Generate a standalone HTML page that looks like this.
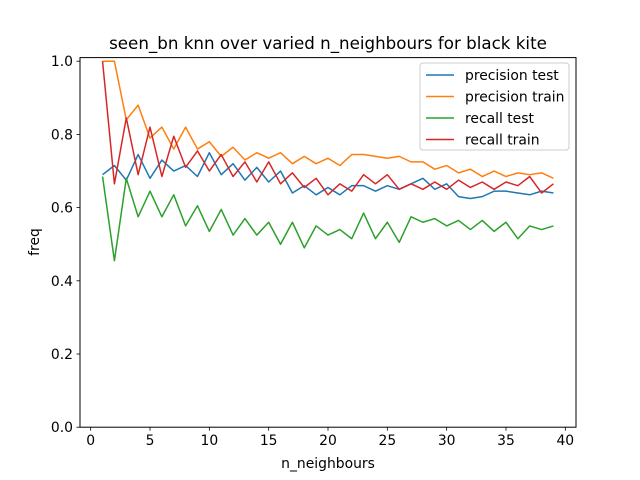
<!DOCTYPE html>
<html><head><meta charset="utf-8"><style>
html,body{margin:0;padding:0;background:#fff;}
svg{display:block;font-family:"DejaVu Sans","Liberation Sans",sans-serif;}
</style></head><body>
<svg id="chart" width="640" height="480" viewBox="0 0 640 480">
<rect width="640" height="480" fill="#fff"/>
<text x="328" y="49" font-size="16.7" text-anchor="middle">seen_bn knn over varied n_neighbours for black kite</text>
<g id="series"></g>
<rect x="80" y="57.6" width="496" height="369.6" fill="none" stroke="#000" stroke-width="1"/>
<g id="ticks"></g>
<text x="328" y="468" font-size="13.9" text-anchor="middle">n_neighbours</text>
<text x="39" y="242" font-size="13.9" text-anchor="middle" transform="rotate(-90 39 242)">freq</text>
<g id="legend"></g>
</svg>
<script>
const nValues=[1,2,3,4,5,6,7,8,9,10,11,12,13,14,15,16,17,18,19,20,21,22,23,24,25,26,27,28,29,30,31,32,33,34,35,36,37,38,39];
const precisionTest=[0.69,0.715,0.675,0.745,0.68,0.73,0.70,0.715,0.685,0.75,0.69,0.72,0.675,0.71,0.67,0.70,0.64,0.66,0.635,0.655,0.635,0.66,0.66,0.645,0.66,0.65,0.665,0.68,0.65,0.665,0.63,0.625,0.63,0.645,0.645,0.64,0.635,0.645,0.64];
const precisionTrain=[1.0,1.0,0.84,0.88,0.79,0.82,0.76,0.82,0.76,0.78,0.74,0.765,0.73,0.75,0.735,0.75,0.72,0.74,0.72,0.735,0.715,0.745,0.745,0.74,0.735,0.74,0.725,0.725,0.705,0.715,0.695,0.705,0.685,0.70,0.685,0.695,0.69,0.695,0.68];
const recallTest=[0.685,0.455,0.68,0.575,0.645,0.575,0.635,0.55,0.605,0.535,0.595,0.525,0.57,0.525,0.56,0.50,0.56,0.49,0.55,0.525,0.54,0.515,0.585,0.515,0.56,0.505,0.575,0.56,0.57,0.55,0.565,0.54,0.565,0.535,0.56,0.515,0.55,0.54,0.55];
const recallTrain=[1.0,0.665,0.845,0.69,0.82,0.685,0.795,0.71,0.755,0.70,0.745,0.685,0.725,0.67,0.725,0.665,0.695,0.655,0.68,0.635,0.665,0.645,0.69,0.665,0.69,0.65,0.665,0.65,0.67,0.65,0.675,0.655,0.67,0.65,0.67,0.66,0.685,0.64,0.665];
const xTicks=[0,5,10,15,20,25,30,35,40];
const yTicks=[0,0.2,0.4,0.6,0.8,1.0];
const seriesNames=["precision test","precision train","recall test","recall train"];
const NS="http://www.w3.org/2000/svg";
const L=80,R=576,T=57.6,B=427.2,xmin=-0.9,xmax=40.9,ymin=0,ymax=1.0099;
const sx=v=>L+(v-xmin)/(xmax-xmin)*(R-L);
const sy=v=>B-(v-ymin)/(ymax-ymin)*(B-T);
function mk(tag,attrs,parent){const e=document.createElementNS(NS,tag);for(const k in attrs)e.setAttribute(k,attrs[k]);parent.appendChild(e);return e;}
const ticks=document.getElementById('ticks');
xTicks.forEach(t=>{
  const l=mk('line',{x1:sx(t),x2:sx(t),y1:B,y2:B+3.5,stroke:'#000','stroke-width':0.8},ticks);
  
  
  const tx=mk('text',{x:sx(t),y:B+18,'font-size':13.9,'text-anchor':'middle'},ticks);tx.textContent=t;
  
  
});
yTicks.forEach(t=>{
  const l=mk('line',{x1:L-3.5,x2:L,y1:sy(t),y2:sy(t),stroke:'#000','stroke-width':0.8},ticks);
  
  
  const tx=mk('text',{x:L-7,y:sy(t)+5,'font-size':13.9,'text-anchor':'end'},ticks);tx.textContent=t.toFixed(1);
  
  
});
const colors=['#1f77b4','#ff7f0e','#2ca02c','#d62728'];
const data=[precisionTest,precisionTrain,recallTest,recallTrain];
const sg=document.getElementById('series');
data.forEach((arr,i)=>{
  const pts=arr.map((v,j)=>sx(nValues[j]).toFixed(2)+','+sy(v).toFixed(2)).join(' ');
  const p=mk('polyline',{points:pts,fill:'none',stroke:colors[i],'stroke-width':1.5,'stroke-linejoin':'round'},sg);
  
  
});
const lg=document.getElementById('legend');
mk('rect',{x:420,y:63,width:149,height:87,rx:3,fill:'#fff','fill-opacity':0.8,stroke:'#ccc','stroke-width':1},lg);
seriesNames.forEach((n,i)=>{
  const y=75+i*21.5;
  const l=mk('line',{x1:426,x2:454,y1:y,y2:y,stroke:colors[i],'stroke-width':1.5},lg);
  
  
  const t=mk('text',{x:465,y:y+5,'font-size':13.9},lg);t.textContent=n;
  
  
});
</script>
</body></html>
